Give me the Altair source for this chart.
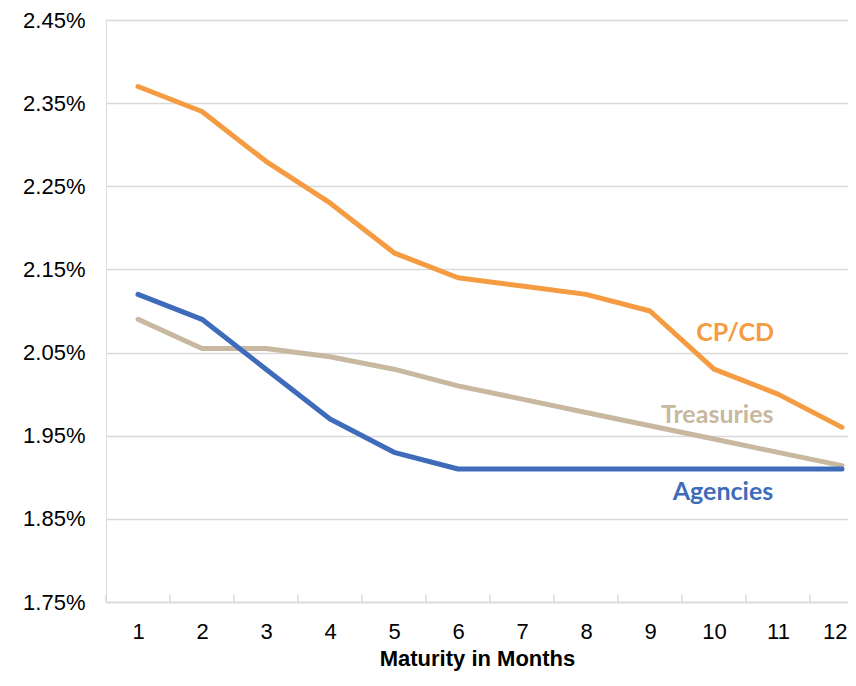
import altair as alt
import pandas as pd

months = list(range(1, 13))
cp_cd = [2.37, 2.34, 2.28, 2.23, 2.17, 2.14, 2.13, 2.12, 2.10, 2.03, 2.00, 1.96]
treasuries = [2.09, 2.055, 2.055, 2.045, 2.03, 2.01, 1.994, 1.978, 1.962, 1.946, 1.93, 1.914]
agencies = [2.12, 2.09, 2.03, 1.97, 1.93, 1.91, 1.91, 1.91, 1.91, 1.91, 1.91, 1.91]
y_ticks = [1.75, 1.85, 1.95, 2.05, 2.15, 2.25, 2.35, 2.45]

series_names = ["Treasuries", "Agencies", "CP/CD"]
series_colors = ["#C8B8A0", "#3F6CBA", "#F59B42"]

label_names = ["CP/CD", "Treasuries", "Agencies"]
label_x = [10.33, 10.05, 10.14]
label_y = [2.073, 1.975, 1.882]

rows = []
for name, vals in zip(["CP/CD", "Treasuries", "Agencies"], [cp_cd, treasuries, agencies]):
    for m, v in zip(months, vals):
        rows.append({"month": m, "value": v, "series": name, "order": series_names.index(name)})
df = pd.DataFrame(rows)

labels_df = pd.DataFrame({"series": label_names, "x": label_x, "y": label_y})
bounds_df = pd.DataFrame({"month": months})

x_scale = alt.Scale(domain=[0.5, 12.09375], nice=False, zero=False)
y_scale = alt.Scale(domain=[1.75, 2.45], nice=False, zero=False)
color_scale = alt.Scale(domain=series_names, range=series_colors)

x_axis = alt.Axis(values=months, format="d", ticks=False, grid=False, domain=True,
                  domainColor="#D9D9D9", domainWidth=1.5,
                  labelFont="Liberation Sans", labelFontSize=22, labelColor="#000000",
                  labelPadding=19, labelFlush=10, labelFlushOffset=5,
                  title="Maturity in Months", titleFont="Liberation Sans",
                  titleFontSize=22, titleFontWeight="bold", titleColor="#000000",
                  titlePadding=6)
y_axis = alt.Axis(values=y_ticks, labelExpr="format(datum.value, '.2f') + '%'",
                  ticks=False, domain=False, grid=True, gridColor="#D9D9D9",
                  gridWidth=1.5, labelFont="Liberation Sans", labelFontSize=22,
                  labelColor="#000000", labelPadding=21, title=None)

lines = alt.Chart(df).mark_line(strokeWidth=5, strokeCap="round", strokeJoin="round").encode(
    x=alt.X("month:Q", scale=x_scale, axis=x_axis),
    y=alt.Y("value:Q", scale=y_scale, axis=y_axis),
    color=alt.Color("series:N", scale=color_scale, legend=None),
    order=alt.Order("order:Q"),
    detail="series:N",
)

bound_ticks = alt.Chart(bounds_df).transform_calculate(
    b="datum.month - 0.5"
).mark_rule(color="#D9D9D9", strokeWidth=1.5).encode(
    x=alt.X("b:Q", scale=x_scale, axis=x_axis),
    y=alt.value(575),
    y2=alt.value(582),
)

texts = alt.Chart(labels_df).mark_text(font="Lato", fontSize=25, fontWeight="bold",
                                       align="center", baseline="middle").encode(
    x=alt.X("x:Q", scale=x_scale, axis=x_axis),
    y=alt.Y("y:Q", scale=y_scale, axis=y_axis),
    text="series:N",
    color=alt.Color("series:N", scale=color_scale, legend=None),
)

chart = alt.layer(bound_ticks, lines, texts).properties(
    width=742, height=582,
    autosize=alt.AutoSizeParams(type="none"),
    padding={"left": 98, "top": 12, "right": 0, "bottom": 71},
).configure_view(stroke="transparent", strokeWidth=0).configure(background="#FFFFFF")

chart.save("out.html", embed_options={"renderer": "svg", "actions": False})
